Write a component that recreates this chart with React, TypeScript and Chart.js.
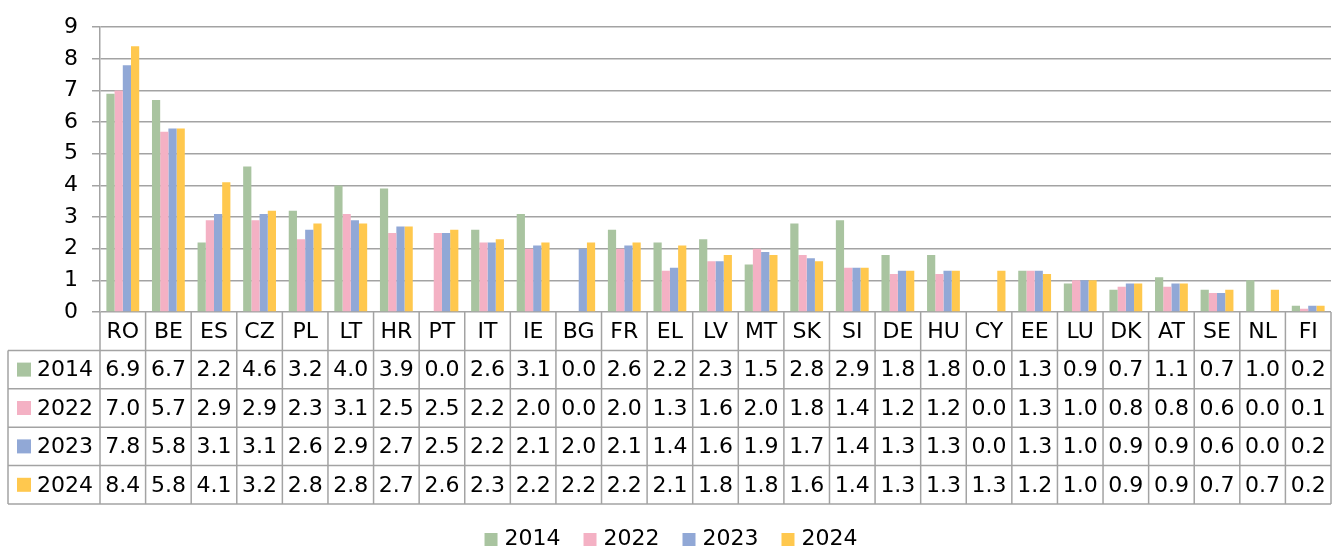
import React, { useEffect, useRef } from "react";
import { Chart, registerables } from "chart.js";
Chart.register(...registerables);

const categories = ["RO","BE","ES","CZ","PL","LT","HR","PT","IT","IE","BG","FR","EL","LV","MT","SK","SI","DE","HU","CY","EE","LU","DK","AT","SE","NL","FI"];
const seriesLabels = ["2014", "2022", "2023", "2024"];
const values2014 = [6.9,6.7,2.2,4.6,3.2,4.0,3.9,0.0,2.6,3.1,0.0,2.6,2.2,2.3,1.5,2.8,2.9,1.8,1.8,0.0,1.3,0.9,0.7,1.1,0.7,1.0,0.2];
const values2022 = [7.0,5.7,2.9,2.9,2.3,3.1,2.5,2.5,2.2,2.0,0.0,2.0,1.3,1.6,2.0,1.8,1.4,1.2,1.2,0.0,1.3,1.0,0.8,0.8,0.6,0.0,0.1];
const values2023 = [7.8,5.8,3.1,3.1,2.6,2.9,2.7,2.5,2.2,2.1,2.0,2.1,1.4,1.6,1.9,1.7,1.4,1.3,1.3,0.0,1.3,1.0,0.9,0.9,0.6,0.0,0.2];
const values2024 = [8.4,5.8,4.1,3.2,2.8,2.8,2.7,2.6,2.3,2.2,2.2,2.2,2.1,1.8,1.8,1.6,1.4,1.3,1.3,1.3,1.2,1.0,0.9,0.9,0.7,0.7,0.2];
const seriesValues = [values2014, values2022, values2023, values2024];
const seriesColors = ["#A9C4A0", "#F4B1C4", "#91A8D6", "#FFC84E"];
const yMin = 0;
const yMax = 9;
const yStep = 1;

const FONT = "'DejaVu Sans', Verdana, sans-serif";
const GRID = "#A3A3A3";
const FONT_SIZE = 22;

export default function App() {
  const ref = useRef<HTMLCanvasElement>(null);
  useEffect(() => {
    if (!ref.current) return;

    const tablePlugin = {
      id: "dataTable",
      afterDraw(chart: any) {
        const ctx = chart.ctx as CanvasRenderingContext2D;
        const xs = chart.scales.x;
        const ca = chart.chartArea;
        const n = categories.length;
        const w = (ca.right - ca.left) / n;
        const top = ca.bottom;
        const bottom = xs.bottom;
        const rh = (bottom - top) / 5;
        const leftEdge = 8;
        ctx.save();
        ctx.strokeStyle = GRID;
        ctx.lineWidth = 1.5;
        const line = (x1: number, y1: number, x2: number, y2: number) => {
          ctx.beginPath();
          ctx.moveTo(x1, y1);
          ctx.lineTo(x2, y2);
          ctx.stroke();
        };
        for (let r = 1; r <= 5; r++) {
          const y = top + r * rh;
          line(leftEdge, y, ca.right, y);
        }
        line(leftEdge, top + rh, leftEdge, bottom);
        line(ca.left, top, ca.left, bottom);
        for (let i = 1; i <= n; i++) {
          const xx = ca.left + i * w;
          line(xx, top, xx, bottom);
        }
        ctx.fillStyle = "#000";
        ctx.font = `${FONT_SIZE}px ${FONT}`;
        ctx.textAlign = "center";
        ctx.textBaseline = "middle";
        for (let i = 0; i < n; i++) {
          const cx = xs.getPixelForValue(i);
          ctx.fillText(categories[i], cx, top + rh / 2 + 1);
          for (let s = 0; s < seriesValues.length; s++) {
            ctx.fillText(seriesValues[s][i].toFixed(1), cx, top + (s + 1.5) * rh + 1);
          }
        }
        ctx.textAlign = "left";
        for (let s = 0; s < seriesLabels.length; s++) {
          const cy = top + (s + 1.5) * rh;
          ctx.fillStyle = seriesColors[s];
          ctx.fillRect(17, cy - 7, 14, 14);
          ctx.fillStyle = "#000";
          ctx.fillText(seriesLabels[s], 37, cy + 1);
        }
        // bottom legend
        const ly = 539;
        const box = 13;
        const gap = 7;
        const spacing = 23;
        const widths = seriesLabels.map((l) => ctx.measureText(l).width);
        let total = 0;
        widths.forEach((tw, k) => {
          total += box + gap + tw + (k < widths.length - 1 ? spacing : 0);
        });
        let x = chart.width / 2 - total / 2 + 5;
        for (let s = 0; s < seriesLabels.length; s++) {
          ctx.fillStyle = seriesColors[s];
          ctx.fillRect(x, ly - 6, box, box);
          ctx.fillStyle = "#000";
          ctx.fillText(seriesLabels[s], x + box + gap, ly);
          x += box + gap + widths[s] + spacing;
        }
        ctx.restore();
      },
    };

    const chart = new Chart(ref.current, {
      type: "bar",
      data: {
        labels: categories,
        datasets: seriesLabels.map((label, s) => ({
          label,
          data: seriesValues[s],
          backgroundColor: seriesColors[s],
          borderWidth: 0,
          categoryPercentage: 0.72,
          barPercentage: 1.0,
        })),
      },
      options: {
        responsive: false,
        animation: false,
        layout: { padding: { top: 23, right: 1, bottom: 45, left: 0 } },
        plugins: {
          legend: { display: false },
          tooltip: { enabled: false },
        },
        scales: {
          x: {
            ticks: { display: false },
            grid: { display: false },
            border: { display: false },
            afterFit: (scale: any) => {
              scale.height = 192;
            },
          },
          y: {
            min: yMin,
            max: yMax,
            ticks: {
              stepSize: yStep,
              color: "#000",
              padding: 14,
              font: { family: FONT, size: FONT_SIZE },
            },
            grid: {
              color: GRID,
              lineWidth: 1.5,
              tickLength: 8,
              drawTicks: true,
            },
            border: { display: true, color: GRID, width: 1.5 },
            afterFit: (scale: any) => {
              scale.width = 100;
            },
          },
        },
      },
      plugins: [tablePlugin],
    });
    return () => chart.destroy();
  }, []);

  return (
    <canvas
      ref={ref}
      width={1332}
      height={549}
      style={{ position: "absolute", left: 0, top: 0, display: "block", width: 1332, height: 549 }}
    />
  );
}
